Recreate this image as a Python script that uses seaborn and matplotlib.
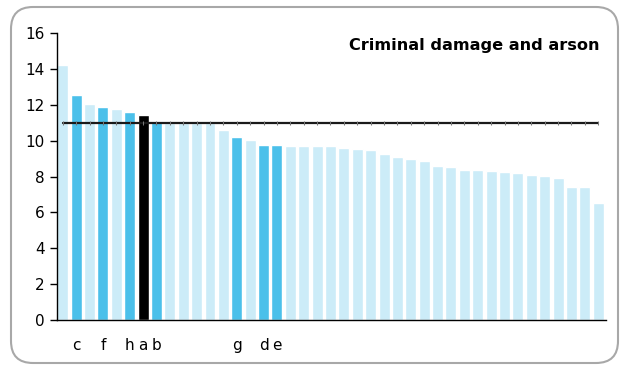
import matplotlib
matplotlib.use("Agg")
import matplotlib.pyplot as plt
import matplotlib.patches as mpatches
from matplotlib.transforms import IdentityTransform
import pandas as pd
import seaborn as sns

# Data
#------------------------
values = [14.2, 12.55, 12.05, 11.88, 11.77, 11.6, 11.43, 11.1, 10.98, 10.98,
          10.98, 10.98, 10.6, 10.2, 10.05, 9.76, 9.76, 9.71, 9.71, 9.71,
          9.71, 9.6, 9.54, 9.49, 9.27, 9.1, 8.99, 8.87, 8.6, 8.54,
          8.37, 8.37, 8.32, 8.26, 8.2, 8.09, 8.04, 7.93, 7.42, 7.42, 6.53]
labels = ["", "c", "", "f", "", "h", "a", "b", "", "",
          "", "", "", "g", "", "d", "e", "", "", "",
          "", "", "", "", "", "", "", "", "", "",
          "", "", "", "", "", "", "", "", "", "", ""]
selected = ["a"]
peers = ["b", "c", "d", "e", "f", "g", "h"]
average = [11.0] * len(values)
title = "Criminal damage and arson"

colors = {"other": "#CCECF8", "peer": "#4BC0EA", "selected": "#000000"}

def group_of(lab):
    if lab in selected:
        return "selected"
    if lab in peers:
        return "peer"
    return "other"

df = pd.DataFrame({
    "area": list(range(len(values))),
    "rate": values,
    "group": [group_of(l) for l in labels],
})

sns.set_style("white")
plt.rcParams["font.family"] = ["DejaVu Sans"]
plt.rcParams["text.color"] = "black"
plt.rcParams["xtick.color"] = "black"
plt.rcParams["ytick.color"] = "black"

fig = plt.figure(figsize=(6.21, 3.66), dpi=100)
ax = fig.add_axes([0.0918, 0.1257, 0.8840, 0.7841])

sns.barplot(data=df, x="area", y="rate", hue="group", palette=colors,
            dodge=False, width=0.82, legend=False, ax=ax, saturation=1)

sns.lineplot(x=df["area"], y=average, color="#1a1a1a", linewidth=1.6,
             marker="|", markersize=3, markeredgecolor="#777777", ax=ax)

ax.set_xlim(-0.43, 40.58)
ax.set_ylim(0, 16)
ax.set_yticks(range(0, 17, 2))
ax.set_xticks(range(len(labels)))
ax.set_xticklabels(labels)
ax.tick_params(axis="x", length=0, pad=13, labelsize=11)
ax.tick_params(axis="y", left=True, length=5, width=1, direction="out",
               labelsize=11, pad=4)
ax.set_xlabel("")
ax.set_ylabel("")
for side in ["top", "right"]:
    ax.spines[side].set_visible(False)
for side in ["left", "bottom"]:
    ax.spines[side].set_color("black")
    ax.spines[side].set_linewidth(1)

ax.text(0.988, 0.982, title, transform=ax.transAxes, ha="right", va="top",
        fontsize=11.6, fontweight="bold", color="black")

# rounded frame around the whole chart
frame = mpatches.FancyBboxPatch((11, 3), 607, 356,
                                boxstyle="round,pad=0,rounding_size=22",
                                transform=IdentityTransform(), fill=False,
                                edgecolor="#A8A8A8", linewidth=1.5)
fig.patches.append(frame)

fig.savefig("out.png", dpi=100)
